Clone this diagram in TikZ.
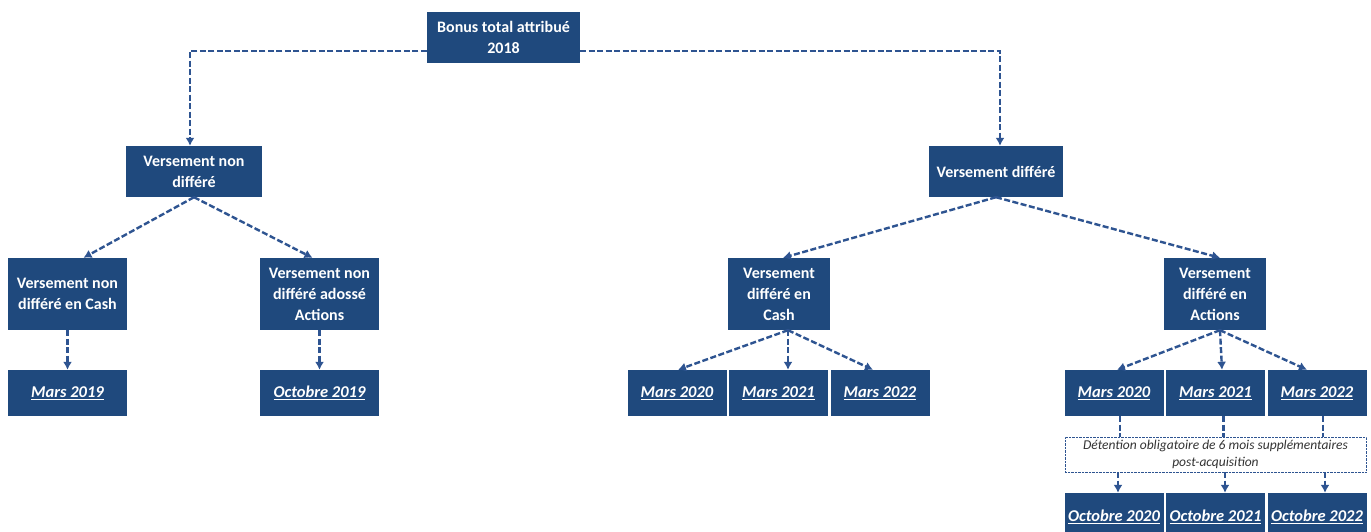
\documentclass[tikz,border=0pt]{standalone}
\usepackage{fontspec}
\setmainfont{Carlito}
\usetikzlibrary{arrows.meta}
\definecolor{boxblue}{HTML}{1F497D}
\definecolor{lineblue}{HTML}{2E5491}
\tikzset{
  box/.style={fill=boxblue,text=white,font=\fontsize{16}{21}\selectfont\bfseries,
    align=center,inner sep=0pt,minimum height=#1},
  box/.default=51pt,
  datebox/.style={box=46pt,minimum width=99pt,font=\fontsize{16.5}{18}\selectfont\bfseries\itshape},
  link/.style={draw=lineblue,line width=2.4pt,dash pattern=on 6pt off 2.5pt,-{Latex[length=8pt,width=9pt]}},
  hold/.style={draw=lineblue,line width=2.4pt,dash pattern=on 6pt off 2.5pt},
  note/.style={draw=lineblue,densely dotted,fill=white,text=black!80,
    font=\fontsize{13.5}{17}\selectfont\itshape,align=center,inner sep=0pt}
}
\begin{document}
\begin{tikzpicture}[x=1pt,y=-1pt]
\clip (0,0) rectangle (1371,531);
\fill[white] (0,0) rectangle (1371,531);

% top
\node[box,minimum width=153pt] (bonus) at (503.5,37.5) {Bonus total attribué\\2018};

% level 1
\node[box,minimum width=136pt] (nd) at (194,171.5) {Versement non\\différé};
\node[box,minimum width=134pt] (d) at (996,171.5) {Versement différé};

% level 2
\node[box=72pt,minimum width=119pt] (ndcash) at (67.5,294) {Versement non\\différé en Cash};
\node[box=72pt,minimum width=119pt] (ndact) at (319.5,294) {Versement non\\différé adossé\\Actions};
\node[box=72pt,minimum width=102pt] (dcash) at (779,294) {Versement\\différé en\\Cash};
\node[box=72pt,minimum width=102pt] (dact) at (1215,294) {Versement\\différé en\\Actions};

% dates
\node[datebox,minimum width=119pt] (m19) at (67.5,393) {\underline{Mars 2019}};
\node[datebox,minimum width=119pt] (o19) at (319.5,393) {\underline{Octobre 2019}};

\node[datebox] (cm20) at (677,393) {\underline{Mars 2020}};
\node[datebox] (cm21) at (778.5,393) {\underline{Mars 2021}};
\node[datebox] (cm22) at (880,393) {\underline{Mars 2022}};

\node[datebox] (am20) at (1114,393) {\underline{Mars 2020}};
\node[datebox] (am21) at (1215.5,393) {\underline{Mars 2021}};
\node[datebox] (am22) at (1317,393) {\underline{Mars 2022}};

\node[note,minimum width=301pt,minimum height=35pt] (hold) at (1215.5,454.5)
  {Détention obligatoire de 6 mois supplémentaires\\post-acquisition};

\node[datebox,minimum height=48pt] (ao20) at (1114,517) {\underline{Octobre 2020}};
\node[datebox,minimum height=48pt] (ao21) at (1215.5,517) {\underline{Octobre 2021}};
\node[datebox,minimum height=48pt] (ao22) at (1317,517) {\underline{Octobre 2022}};

% connectors
\draw[link] ([yshift=-13.5pt]bonus.west) -| ([xshift=-4pt]nd.north);
\draw[link] ([yshift=-13.5pt]bonus.east) -| ([xshift=4pt]d.north);

\draw[link] (nd.south) -- ([xshift=16pt]ndcash.north);
\draw[link] (nd.south) -- ([xshift=-7pt]ndact.north);
\draw[link] (d.south) -- ([xshift=4pt]dcash.north);
\draw[link] (d.south) -- ([xshift=5pt]dact.north);

\draw[link] (ndcash.south) -- (m19.north);
\draw[link] (ndact.south) -- (o19.north);

\draw[link] ([xshift=9pt]dcash.south) -- ([xshift=1pt]cm20.north);
\draw[link] ([xshift=9pt]dcash.south) -- ([xshift=9.5pt]cm21.north);
\draw[link] ([xshift=9pt]dcash.south) -- ([xshift=-7pt]cm22.north);

\draw[link] ([xshift=5pt]dact.south) -- ([xshift=3pt]am20.north);
\draw[link] ([xshift=5pt]dact.south) -- ([xshift=6.5pt]am21.north);
\draw[link] ([xshift=5pt]dact.south) -- ([xshift=-10pt]am22.north);

\foreach \n/\s in {am20/6,am21/8,am22/6}{
  \draw[hold] ([xshift=\s pt]\n.south) -- ([xshift=\s pt]\n.south |- hold.north);
}
\draw[link] ([xshift=4pt]ao20.north |- hold.south) -- ([xshift=4pt]ao20.north);
\draw[link] ([xshift=9.5pt]ao21.north |- hold.south) -- ([xshift=9.5pt]ao21.north);
\draw[link] ([xshift=8pt]ao22.north |- hold.south) -- ([xshift=8pt]ao22.north);
\end{tikzpicture}
\end{document}
